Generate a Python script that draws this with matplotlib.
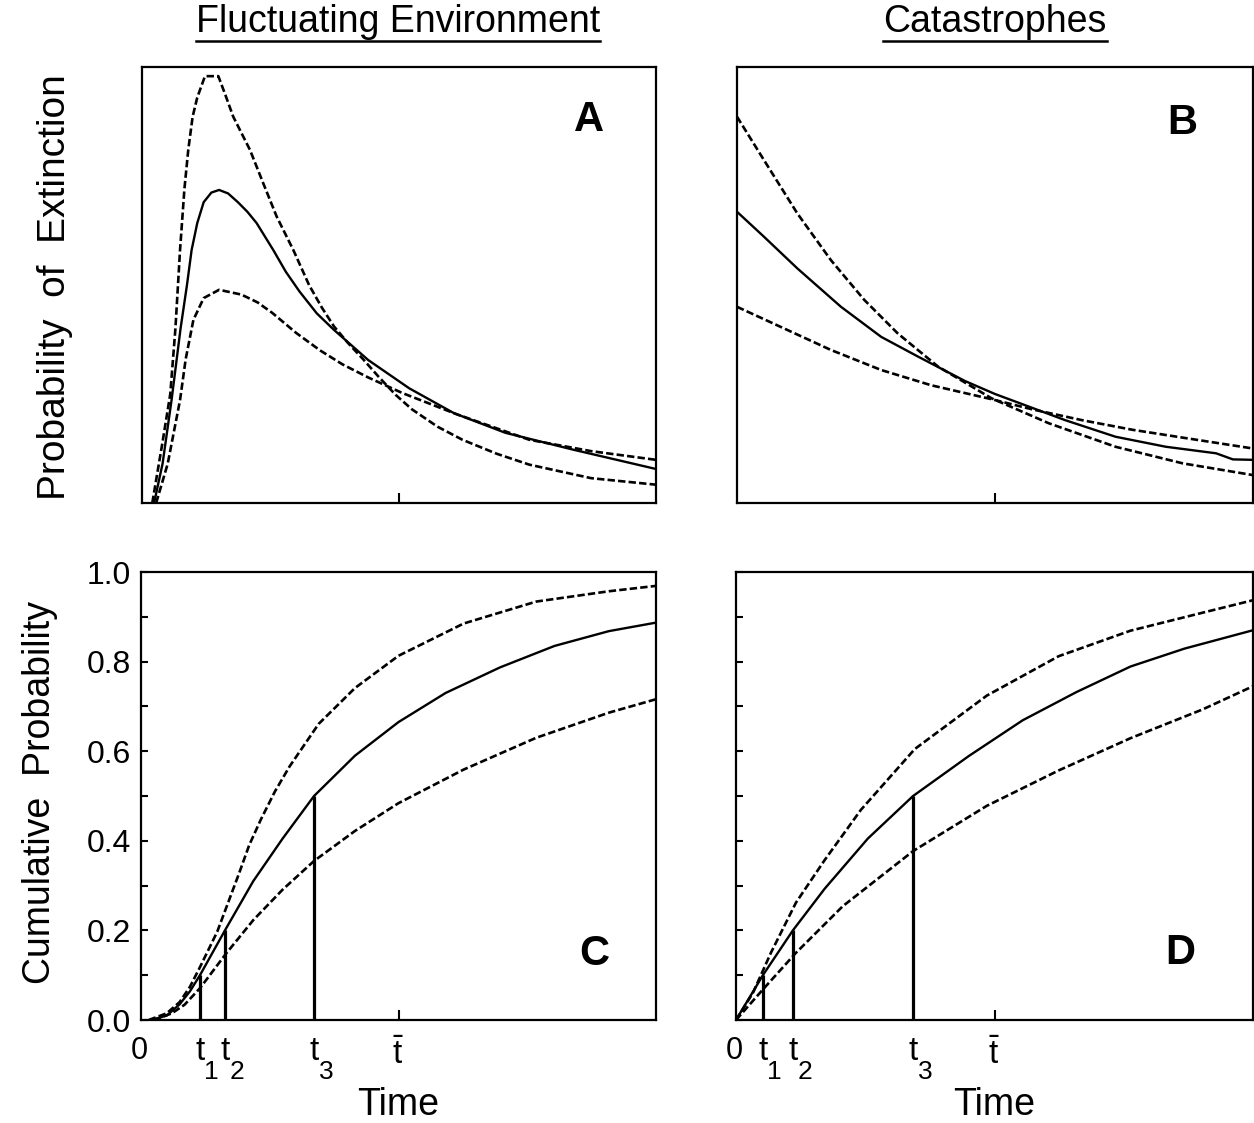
import matplotlib.pyplot as plt
from matplotlib.lines import Line2D

plt.rcParams['font.family'] = ['Liberation Sans', 'DejaVu Sans']
plt.rcParams['mathtext.fontset'] = 'custom'
plt.rcParams['mathtext.rm'] = 'Liberation Sans'

# time in units of the mean time t-bar (t-bar = 1)
# panel A: probability of extinction, fluctuating environment (relative height)
a_solid_t = [0.047, 0.08, 0.115, 0.15, 0.175, 0.193, 0.215, 0.24, 0.27, 0.30, 0.335, 0.373,
             0.41, 0.446, 0.511, 0.56, 0.613, 0.68, 0.747, 0.88, 1.04, 1.214, 1.414, 1.68,
             2.0]
a_solid_p = [0.0, 0.09, 0.236, 0.40, 0.50, 0.58, 0.642, 0.69, 0.712, 0.718, 0.71, 0.69,
             0.668, 0.642, 0.58, 0.53, 0.485, 0.435, 0.397, 0.328, 0.263, 0.206, 0.161,
             0.122, 0.078]
a_high_t = [0.04, 0.08, 0.11, 0.13, 0.148, 0.165, 0.18, 0.197, 0.215, 0.245, 0.297, 0.325,
            0.355, 0.42, 0.472, 0.524, 0.589, 0.65, 0.70, 0.747, 0.80, 0.86, 0.92, 0.987,
            1.05, 1.15, 1.247, 1.38, 1.507, 1.747, 2.0]
a_high_p = [0.0, 0.14, 0.25, 0.40, 0.58, 0.72, 0.81, 0.886, 0.93, 0.979, 0.979, 0.935,
            0.886, 0.81, 0.733, 0.657, 0.58, 0.50, 0.448, 0.405, 0.368, 0.33, 0.29, 0.248,
            0.215, 0.175, 0.145, 0.113, 0.088, 0.057, 0.042]
a_low_t = [0.055, 0.1, 0.148, 0.17, 0.2, 0.24, 0.30, 0.387, 0.45, 0.507, 0.6, 0.693, 0.78,
           0.88, 1.014, 1.227, 1.507, 1.747, 2.0]
a_low_p = [0.0, 0.09, 0.236, 0.33, 0.42, 0.47, 0.489, 0.478, 0.46, 0.436, 0.39, 0.35,
           0.318, 0.288, 0.252, 0.203, 0.145, 0.119, 0.099]

# panel B: probability of extinction, catastrophes (relative height)
b_solid_t = [0.0, 0.104, 0.234, 0.403, 0.559, 0.701, 0.883, 1.0, 1.091, 1.272, 1.467,
             1.662, 1.857, 1.922, 2.0]
b_solid_p = [0.668, 0.611, 0.538, 0.45, 0.381, 0.336, 0.28, 0.25, 0.23, 0.19, 0.152,
             0.129, 0.114, 0.10, 0.099]
b_steep_t = [0.0, 0.104, 0.234, 0.364, 0.493, 0.623, 0.779, 0.987, 1.208, 1.467, 1.727, 2.0]
b_steep_p = [0.886, 0.787, 0.664, 0.557, 0.466, 0.389, 0.313, 0.24, 0.183, 0.129, 0.091,
             0.064]
b_flat_t = [0.0, 0.169, 0.364, 0.559, 0.753, 0.987, 1.143, 1.337, 1.532, 1.792, 2.0]
b_flat_p = [0.45, 0.404, 0.351, 0.305, 0.27, 0.238, 0.215, 0.19, 0.168, 0.144, 0.125]

# panel C: cumulative probability, fluctuating environment
c_solid_t = [0.04, 0.1, 0.15, 0.19, 0.229, 0.326, 0.436, 0.55, 0.672, 0.831, 1.0, 1.183,
             1.394, 1.606, 1.817, 2.0]
c_solid_p = [0.0, 0.01, 0.035, 0.064, 0.1, 0.2, 0.31, 0.405, 0.5, 0.59, 0.665, 0.73,
             0.787, 0.835, 0.868, 0.887]
c_high_t = [0.03, 0.1, 0.15, 0.19, 0.229, 0.296, 0.38, 0.42, 0.465, 0.52, 0.577, 0.69,
            0.831, 1.0, 1.253, 1.535, 1.817, 2.0]
c_high_p = [0.0, 0.015, 0.04, 0.074, 0.118, 0.197, 0.326, 0.39, 0.447, 0.51, 0.566, 0.661,
            0.741, 0.813, 0.885, 0.934, 0.957, 0.969]
c_low_t = [0.05, 0.12, 0.169, 0.229, 0.33, 0.436, 0.55, 0.672, 0.831, 1.0, 1.253, 1.535,
           1.817, 2.0]
c_low_p = [0.0, 0.015, 0.034, 0.071, 0.148, 0.223, 0.291, 0.355, 0.422, 0.484, 0.559,
           0.63, 0.686, 0.716]
c_marks = [0.229, 0.326, 0.672]
c_levels = [0.1, 0.2, 0.5]

# panel D: cumulative probability, catastrophes
d_solid_t = [0.0, 0.104, 0.22, 0.343, 0.51, 0.685, 0.9, 1.109, 1.317, 1.526, 1.735, 2.0]
d_solid_p = [0.0, 0.1, 0.2, 0.293, 0.405, 0.5, 0.589, 0.669, 0.732, 0.789, 0.829, 0.87]
d_high_t = [0.0, 0.066, 0.135, 0.232, 0.343, 0.483, 0.692, 0.97, 1.248, 1.526, 1.804, 2.0]
d_high_p = [0.0, 0.061, 0.15, 0.262, 0.357, 0.469, 0.605, 0.724, 0.812, 0.869, 0.909,
            0.937]
d_low_t = [0.0, 0.107, 0.232, 0.413, 0.685, 0.97, 1.248, 1.526, 1.804, 2.0]
d_low_p = [0.0, 0.07, 0.15, 0.254, 0.377, 0.478, 0.557, 0.629, 0.693, 0.745]
d_marks = [0.104, 0.22, 0.685]
d_levels = [0.1, 0.2, 0.5]

mark_names = ['1', '2', '3']
t_bar = 1.0

W, H = 1254, 1123
fig = plt.figure(figsize=(W / 100, H / 100), dpi=100)


def box(x0, y0, x1, y1):
    return [x0 / W, 1 - y1 / H, (x1 - x0) / W, (y1 - y0) / H]


solid = dict(color='k', lw=1.7)
dashed = dict(color='k', lw=1.9, linestyle=(0, (2.8, 1.2)))


def frame(ax, cumulative, labels=True):
    ax.set_xlim(0, 2)
    for s in ax.spines.values():
        s.set_linewidth(1.6)
    ax.set_xticks([t_bar])
    ax.tick_params(axis='x', direction='in', length=7, width=1.5, labelbottom=False)
    if cumulative:
        ax.set_ylim(0, 1.0)
        ticks = [i / 10 for i in range(11)]
        ax.set_yticks(ticks)
        ax.set_yticklabels([f'{v:.1f}' if i % 2 == 0 else '' for i, v in enumerate(ticks)])
        ax.tick_params(axis='y', direction='in', length=5, width=1.5, labelsize=23, pad=7,
                       labelleft=labels)
    else:
        ax.set_ylim(0, 1)
        ax.set_yticks([])


axA = fig.add_axes(box(142, 67, 656, 503))
axB = fig.add_axes(box(737, 67, 1253, 503))
axC = fig.add_axes(box(141, 572, 656, 1020))
axD = fig.add_axes(box(736, 572, 1253, 1020))

axA.plot(a_high_t, a_high_p, **dashed)
axA.plot(a_low_t, a_low_p, **dashed)
axA.plot(a_solid_t, a_solid_p, **solid)
frame(axA, False)

axB.plot(b_steep_t, b_steep_p, **dashed)
axB.plot(b_flat_t, b_flat_p, **dashed)
axB.plot(b_solid_t, b_solid_p, **solid)
frame(axB, False)

axC.plot(c_high_t, c_high_p, **dashed)
axC.plot(c_low_t, c_low_p, **dashed)
axC.plot(c_solid_t, c_solid_p, **solid)
axC.vlines(c_marks, 0, c_levels, color='k', lw=2.3)
frame(axC, True)

axD.plot(d_high_t, d_high_p, **dashed)
axD.plot(d_low_t, d_low_p, **dashed)
axD.plot(d_solid_t, d_solid_p, **solid)
axD.vlines(d_marks, 0, d_levels, color='k', lw=2.3)
frame(axD, True, labels=False)

# panel letters
for ax, letter, x, y in [(axA, 'A', 0.870, 0.878), (axB, 'B', 0.862, 0.872),
                         (axC, 'C', 0.880, 0.147), (axD, 'D', 0.859, 0.150)]:
    ax.text(x, y, letter, transform=ax.transAxes, fontsize=30, fontweight='bold',
            ha='center', va='center')

# time labels under the cumulative panels
for ax, marks in [(axC, c_marks), (axD, d_marks)]:
    tr = ax.get_xaxis_transform()
    ax.text(-0.005, -0.07, '0', transform=tr, fontsize=22, ha='center', va='center')
    for m, name in zip(marks, mark_names):
        ax.text(m, -0.07, 't', transform=tr, fontsize=24, ha='center', va='center')
        ax.text(m + 0.046, -0.117, name, transform=tr, fontsize=19, ha='center',
                va='center')
    ax.text(t_bar, -0.077, r'$\bar{\mathrm{t}}$', transform=tr, fontsize=24,
            ha='center', va='center')
    ax.text(1.0, -0.19, 'Time', transform=tr, fontsize=27, ha='center', va='center')

# axis titles
fig.text(55 / W, 1 - 287 / H, 'Probability  of  Extinction', rotation=90, fontsize=28,
         ha='center', va='center')
fig.text(40 / W, 1 - 793 / H, 'Cumulative  Probability', rotation=90, fontsize=27,
         ha='center', va='center')

# underlined column headers
titles = [fig.text(398 / W, 1 - 22 / H, 'Fluctuating Environment', fontsize=27,
                   ha='center', va='center'),
          fig.text(995 / W, 1 - 22 / H, 'Catastrophes', fontsize=27,
                   ha='center', va='center')]
fig.canvas.draw()
for t in titles:
    bb = t.get_window_extent()
    fig.add_artist(Line2D([bb.x0 / W, bb.x1 / W], [1 - 41 / H, 1 - 41 / H],
                          color='k', lw=1.8, transform=fig.transFigure))

fig.savefig('out.png', dpi=100)
